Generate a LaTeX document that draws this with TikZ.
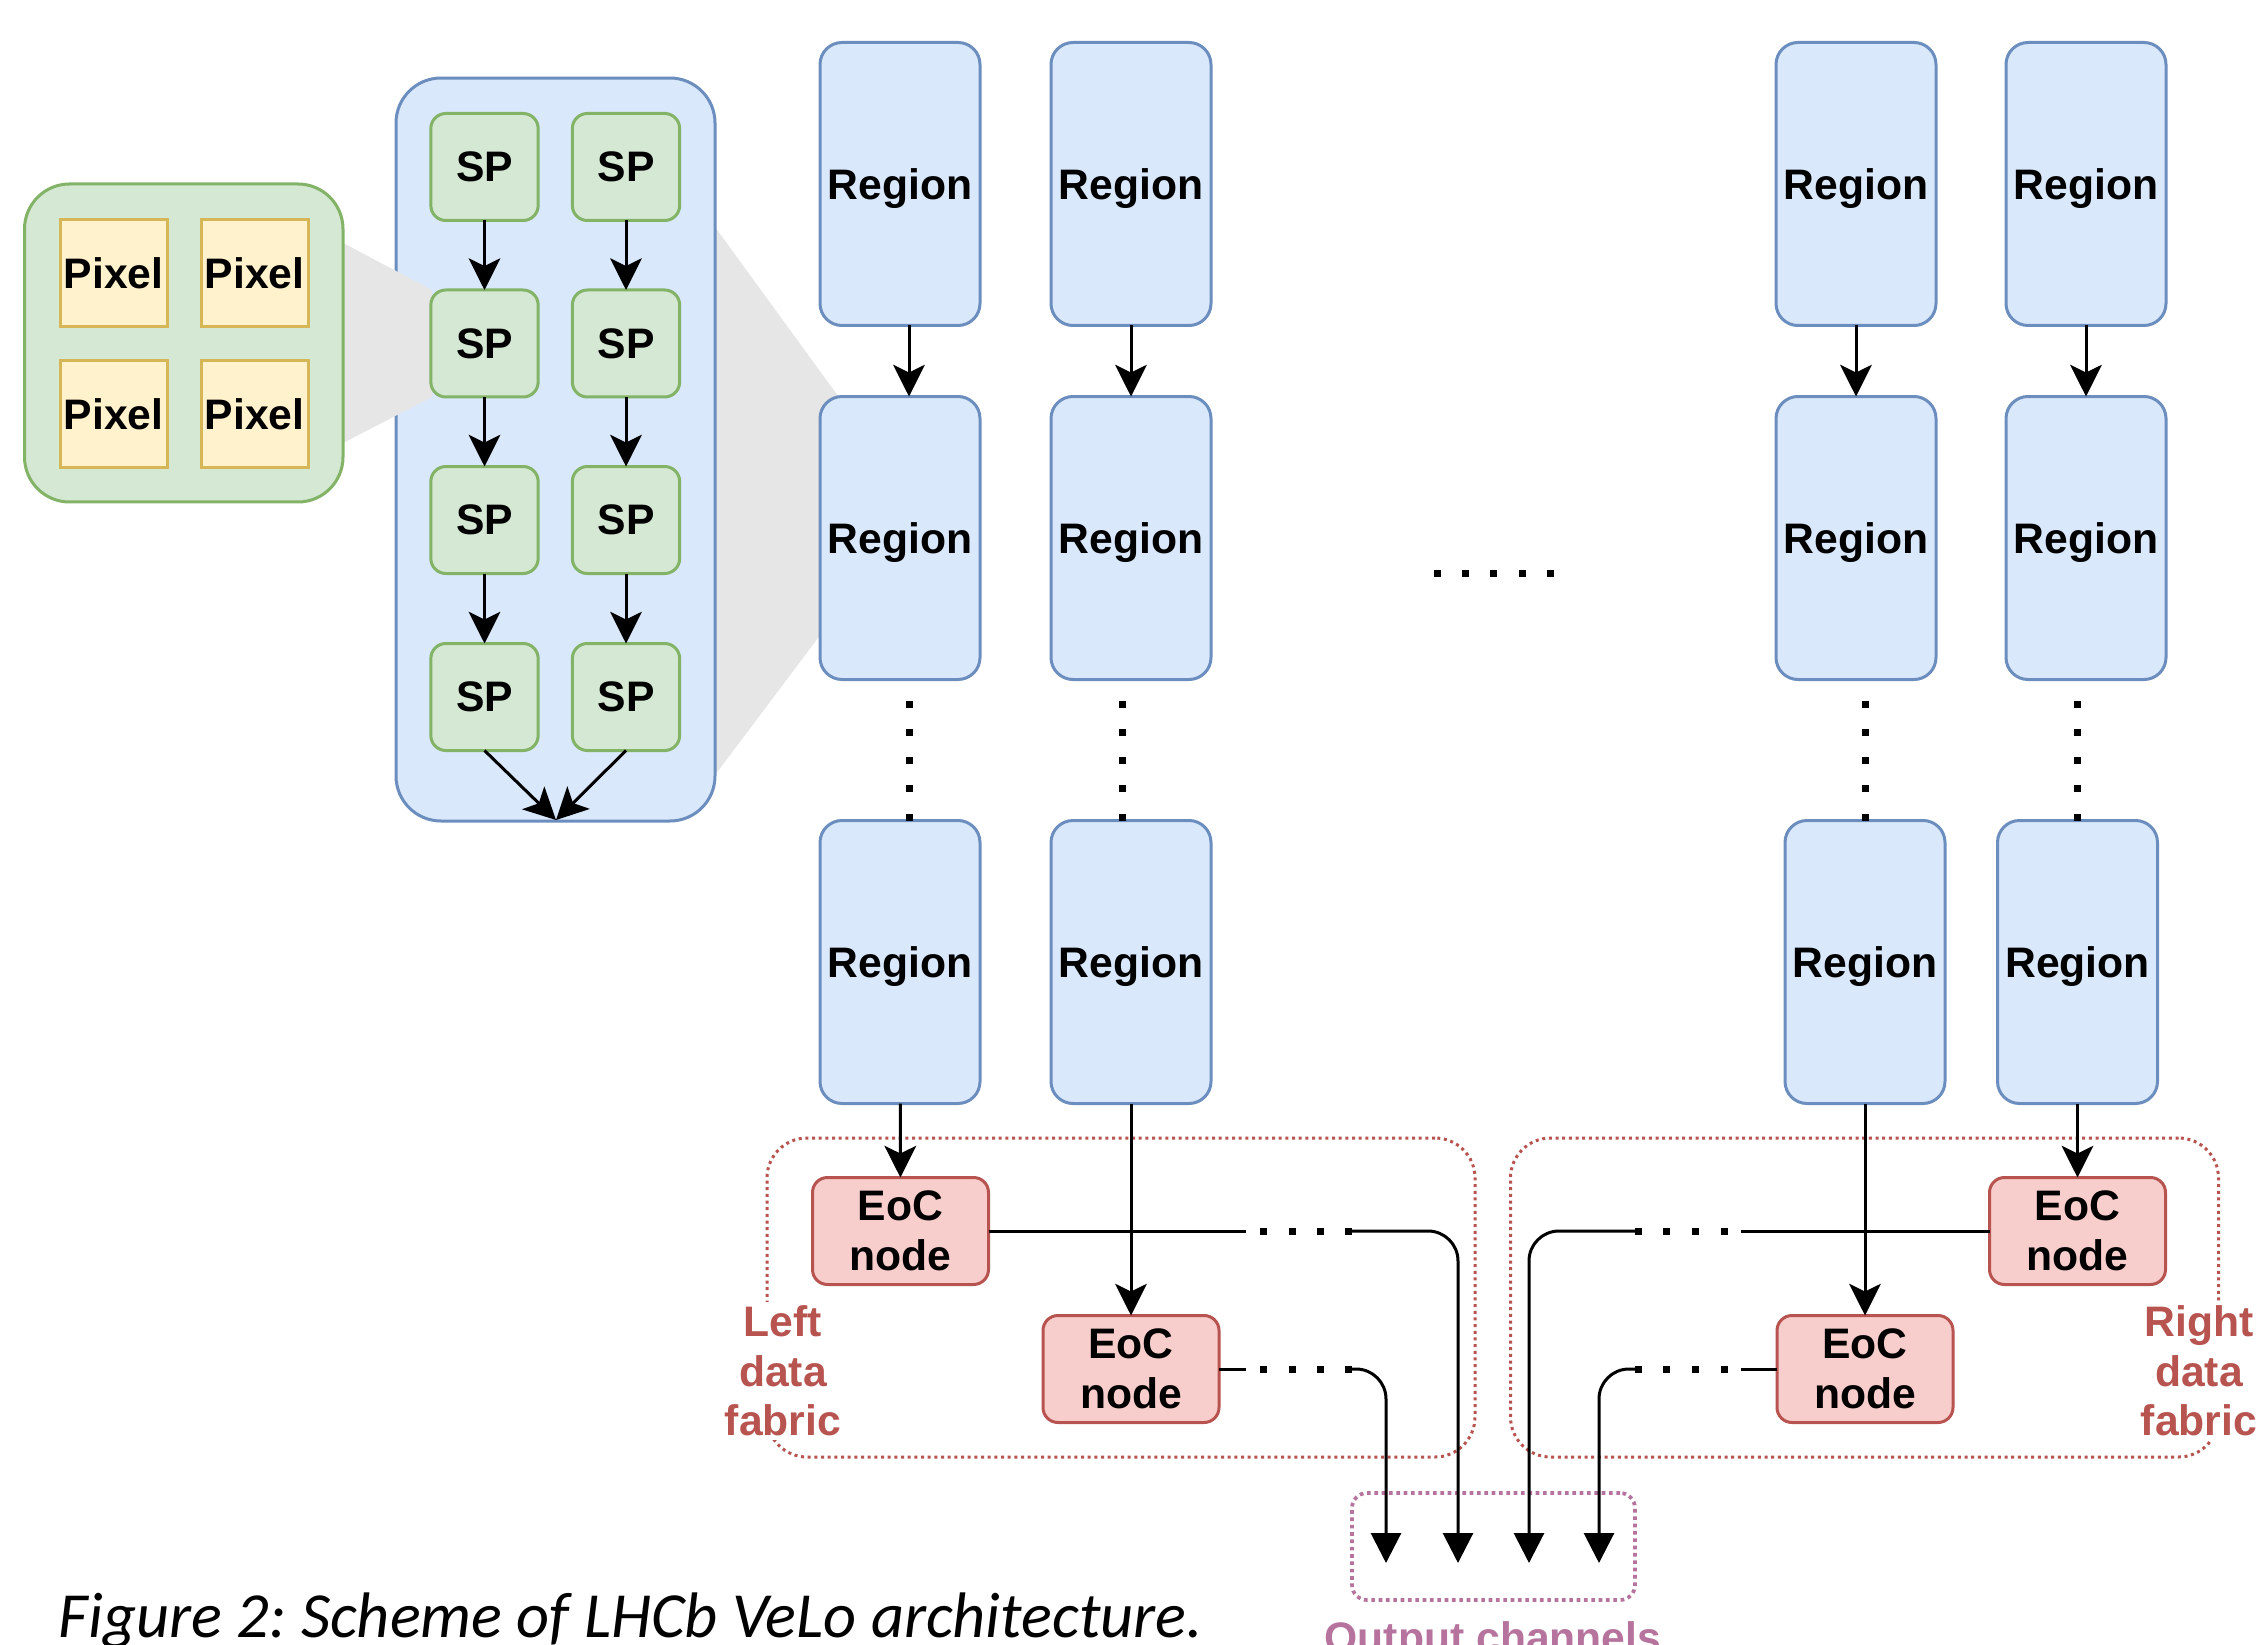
\documentclass[tikz,border=0pt]{standalone}
\usepackage{fontspec}
\setmainfont{Liberation Sans}
\newfontfamily\capfont{Carlito}
\usetikzlibrary{arrows.meta}
\frenchspacing
\definecolor{bfill}{HTML}{DAE8FC}
\definecolor{bdraw}{HTML}{6C8EBF}
\definecolor{gfill}{HTML}{D5E8D4}
\definecolor{gdraw}{HTML}{82B366}
\definecolor{yfill}{HTML}{FFF2CC}
\definecolor{ydraw}{HTML}{D6B656}
\definecolor{rfill}{HTML}{F8CECC}
\definecolor{rdraw}{HTML}{B85450}
\definecolor{pdraw}{HTML}{B5739D}
\definecolor{wedgegray}{HTML}{E6E6E6}
\begin{document}
\begin{tikzpicture}[x=0.3pt, y=-0.3pt,
  every node/.style={font=\fontsize{12.8pt}{14.9pt}\selectfont\bfseries, inner sep=0pt, outer sep=0pt},
  container/.style={line width=0.9pt, rounded corners=13.5pt},
  regionbox/.style={draw=bdraw, fill=bfill, line width=0.9pt, rounded corners=6.6pt, minimum width=48pt, minimum height=84.9pt, text depth=0pt},
  spbox/.style={draw=gdraw, fill=gfill, line width=0.9pt, rounded corners=4.5pt, minimum width=32.2pt, minimum height=32.1pt},
  pixbox/.style={draw=ydraw, fill=yfill, line width=0.9pt, minimum width=32.1pt, minimum height=32.1pt},
  eocbox/.style={draw=rdraw, fill=rfill, line width=0.9pt, rounded corners=4.5pt, minimum width=52.8pt, minimum height=32.1pt, align=center},
  fabricbox/.style={draw=rdraw, line width=0.9pt, dash pattern=on 0.9pt off 1.1pt, rounded corners=12pt, minimum width=212.4pt, minimum height=95.7pt},
  outbox/.style={draw=pdraw, line width=1.1pt, dash pattern=on 1.1pt off 1.1pt, rounded corners=4.5pt, minimum width=84.9pt, minimum height=32.1pt},
  fablabel/.style={text=rdraw, fill=white, align=center, inner sep=1pt},
  arr/.style={line width=0.9pt, -{Stealth[length=9.5pt, width=9.5pt, inset=2.3pt]}},
  outarr/.style={line width=0.9pt, rounded corners=9pt, -{Triangle[length=9pt, width=9pt]}},
  conn/.style={line width=0.9pt},
  vdots/.style={line width=2.1pt, dash pattern=on 2.1pt off 6.39pt, shorten <=6.3pt}
]
\useasboundingbox (0,0) rectangle (2257,1645);
\fill[white] (0,0) rectangle (2257,1645);

% wedge behind the SP container, towards a region
\fill[wedgegray] (715,227) -- (838,396) -- (821,634) -- (715,775) -- cycle;

% SP container
\node[container, draw=bdraw, fill=bfill, minimum width=95.7pt, minimum height=222.9pt] (spc) at (555.5,449.5) {};

% wedge from pixel container to an SP
\fill[wedgegray] (343,243) -- (432,290) -- (432,397) -- (343,443) -- cycle;

% pixel container
\node[container, draw=gdraw, fill=gfill, minimum width=95.55pt, minimum height=95.4pt] (pixc) at (183.75,343) {};
\node[pixbox] (p11) at (113.5,273) {Pixel};
\node[pixbox] (p12) at (254.5,273) {Pixel};
\node[pixbox] (p21) at (113.5,414) {Pixel};
\node[pixbox] (p22) at (254.5,414) {Pixel};

% SP boxes
\node[spbox] (sp11) at (484.5,167) {SP};
\node[spbox] (sp12) at (626,167) {SP};
\node[spbox] (sp21) at (484.5,343.5) {SP};
\node[spbox] (sp22) at (626,343.5) {SP};
\node[spbox] (sp31) at (484.5,520) {SP};
\node[spbox] (sp32) at (626,520) {SP};
\node[spbox] (sp41) at (484.5,697) {SP};
\node[spbox] (sp42) at (626,697) {SP};
\coordinate (spout) at (556,820);

\draw[arr] (sp11) -- (sp21);
\draw[arr] (sp21) -- (sp31);
\draw[arr] (sp31) -- (sp41);
\draw[arr] (sp12) -- (sp22);
\draw[arr] (sp22) -- (sp32);
\draw[arr] (sp32) -- (sp42);
\draw[arr] (sp41.south) -- (spout);
\draw[arr] (sp42.south) -- (spout);

% Regions
\node[regionbox] (r11) at (900,184) {Region};
\node[regionbox] (r12) at (1131,184) {Region};
\node[regionbox] (r13) at (1856,184) {Region};
\node[regionbox] (r14) at (2086,184) {Region};
\node[regionbox] (r21) at (900,538) {Region};
\node[regionbox] (r22) at (1131,538) {Region};
\node[regionbox] (r23) at (1856,538) {Region};
\node[regionbox] (r24) at (2086,538) {Region};
\node[regionbox] (r31) at (900,962) {Region};
\node[regionbox] (r32) at (1131,962) {Region};
\node[regionbox] (r33) at (1865,962) {Region};
\node[regionbox] (r34) at (2077.5,962) {Region};

\draw[arr] ([xshift=2.7pt]r11.south) -- ([xshift=2.7pt]r21.north);
\draw[arr] (r12) -- (r22);
\draw[arr] (r13) -- (r23);
\draw[arr] (r14) -- (r24);

\draw[vdots] ([xshift=2.7pt]r21.south) -- ([xshift=2.7pt]r31.north);
\draw[vdots] ([xshift=-2.7pt]r22.south) -- ([xshift=-2.7pt]r32.north);
\draw[vdots] (r23.south -| r33.north) -- (r33.north);
\draw[vdots] (r24.south -| r34.north) -- (r34.north);

\foreach \x in {1437,1465,1493,1522,1550} \fill (\x-3.5,569.5) rectangle ++(7,7);

% data fabrics
\node[fabricbox] (lfab) at (1121,1297.5) {};
\node[fabricbox] (rfab) at (1864.5,1297.5) {};
\node[fablabel] (llab) at (783,1371) {Left\\data\\fabric};
\node[fablabel] (rlab) at (2199,1371) {Right\\data\\fabric};

% output channels
\node[outbox] (obox) at (1493.5,1546.5) {};
\node[anchor=base, text=pdraw] (olab) at (1493,1652) {Output channels};
\coordinate (o1) at (1386,1563);
\coordinate (o2) at (1458,1563);
\coordinate (o3) at (1529,1563);
\coordinate (o4) at (1599,1563);

% EoC nodes
\node[eocbox] (e1) at (900.5,1231) {EoC\\node};
\node[eocbox] (e2) at (1131,1369) {EoC\\node};
\node[eocbox] (e3) at (1865,1369) {EoC\\node};
\node[eocbox] (e4) at (2077.5,1231) {EoC\\node};

\draw[arr] (r31) -- (e1);
\draw[arr] (r32) -- (e2);
\draw[arr] (r33) -- (e3);
\draw[arr] (r34) -- (e4);

% EoC to output channels
\draw[conn] (e1.east) -- (1246,1231);
\foreach \x in {1263,1292,1320,1348} \fill (\x-3.5,1227.5) rectangle ++(7,7);
\draw[outarr] (1348,1231) -- (o2 |- e1.east) -- (o2);

\draw[conn] (e2.east) -- (1246,1369);
\foreach \x in {1263,1292,1320,1348} \fill (\x-3.5,1365.5) rectangle ++(7,7);
\draw[outarr] (1348,1369) -- (o1 |- e2.east) -- (o1);

\draw[conn] (e4.west) -- (1741,1231);
\foreach \x in {1724,1695,1666,1638} \fill (\x-3.5,1227.5) rectangle ++(7,7);
\draw[outarr] (1638,1231) -- (o3 |- e4.west) -- (o3);

\draw[conn] (e3.west) -- (1741,1369);
\foreach \x in {1724,1695,1666,1638} \fill (\x-3.5,1365.5) rectangle ++(7,7);
\draw[outarr] (1638,1369) -- (o4 |- e3.west) -- (o4);

% caption
\node[anchor=base west, font=\capfont\itshape\fontsize{19.3pt}{22pt}\selectfont] (cap) at (59,1637) {Figure 2: Scheme of LHCb VeLo architecture.};
\end{tikzpicture}
\end{document}
